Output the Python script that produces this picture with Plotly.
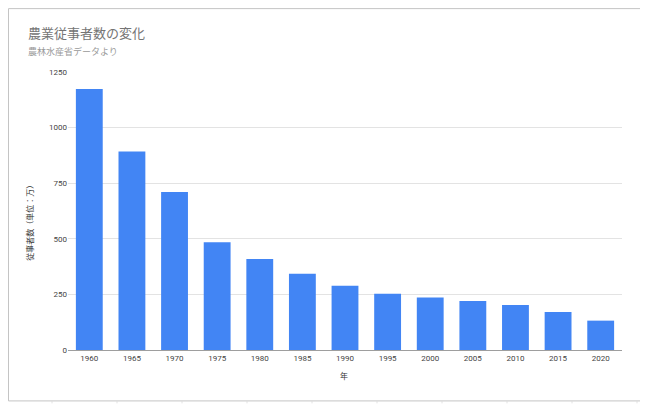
"""農業従事者数の変化(Google スプレッドシート風の棒グラフ)"""

import plotly.graph_objects as go

YEARS = ["1960", "1965", "1970", "1975", "1980", "1985", "1990",
         "1995", "2000", "2005", "2010", "2015", "2020"]
WORKERS = [1173, 892, 710, 485, 409, 343, 289, 253, 236, 220, 202, 171, 132]
Y_TICKS = [0, 250, 500, 750, 1000, 1250]

TITLE = "農業従事者数の変化"
SUBTITLE = "農林水産省データより"
X_TITLE = "年"
Y_TITLE = "従事者数（単位：万）"

FONT = "Roboto, Arial, 'Noto Sans CJK JP', sans-serif"
BAR = "#4285f4"
GRID = "#e3e3e3"
CELL = "#e2e2e2"

# ページは body の余白 8px ぶんずれて描かれるので、図はその分小さくする
OFF = 8
PAGE_W, PAGE_H = 648, 404
W, H = PAGE_W - OFF, PAGE_H - OFF
# プロット領域(ページ座標): x 68..622, y 72..350.5
L, R, T, B = 68 - OFF, PAGE_W - 622, 72 - OFF, PAGE_H - 350.5
PW, PH = W - L - R, H - T - B


def px(x):  # ページ上のピクセル -> paper 座標
    return (x - OFF - L) / PW


def py(y):
    return (H - B - (y - OFF)) / PH


fig = go.Figure(go.Bar(x=YEARS, y=WORKERS, marker=dict(color=BAR, line=dict(width=0)),
                       hovertemplate="%{x}<br>%{y}<extra></extra>"))

# 背景のシートのセル線とグラフ枠
shapes = []
for x in range(52, PAGE_W, 65):
    shapes.append(dict(type="line", xref="paper", yref="paper", x0=px(x), x1=px(x),
                       y0=py(402), y1=py(PAGE_H), line=dict(color=CELL, width=1),
                       layer="below"))
for y in range(16, PAGE_H, 21):
    shapes.append(dict(type="line", xref="paper", yref="paper", x0=px(642), x1=px(PAGE_W),
                       y0=py(y), y1=py(y), line=dict(color=CELL, width=1), layer="below"))
shapes.append(dict(type="rect", xref="paper", yref="paper", x0=px(8.5), x1=px(641.5),
                   y0=py(401.5), y1=py(8.5), line=dict(color="#c4c4c4", width=1),
                   fillcolor="rgba(0,0,0,0)", layer="below"))

annotations = [
    dict(text=TITLE, xref="paper", yref="paper", x=px(26), y=py(33), xanchor="left",
         yanchor="middle", showarrow=False, font=dict(size=13, color="#757575", family=FONT)),
    dict(text=SUBTITLE, xref="paper", yref="paper", x=px(26), y=py(51), xanchor="left",
         yanchor="middle", showarrow=False, font=dict(size=9, color="#9a9a9a", family=FONT)),
    dict(text=X_TITLE, xref="paper", yref="paper", x=px(344), y=py(377), xanchor="center",
         yanchor="middle", showarrow=False, font=dict(size=8, color="#333", family=FONT)),
    dict(text=Y_TITLE, xref="paper", yref="paper", x=px(30), y=py(221), xanchor="center",
         yanchor="middle", textangle=-90, showarrow=False,
         font=dict(size=8, color="#333", family=FONT)),
]

fig.update_layout(
    width=W, height=H, margin=dict(l=L, r=R, t=T, b=B, autoexpand=False),
    paper_bgcolor="white", plot_bgcolor="white",
    font=dict(family=FONT, size=8, color="#444"),
    showlegend=False, bargap=0.37,
    shapes=shapes, annotations=annotations,
    xaxis=dict(type="category", showgrid=False, showline=True, linecolor="#9e9e9e",
               linewidth=1, ticks="", tickfont=dict(size=8, color="#444"), fixedrange=True),
    yaxis=dict(range=[0, 1250], tickvals=Y_TICKS, showgrid=True, gridcolor=GRID,
               gridwidth=1, zeroline=False, showline=False, ticks="",
               tickfont=dict(size=8, color="#444"), fixedrange=True),
)

fig.write_html("out.html")
